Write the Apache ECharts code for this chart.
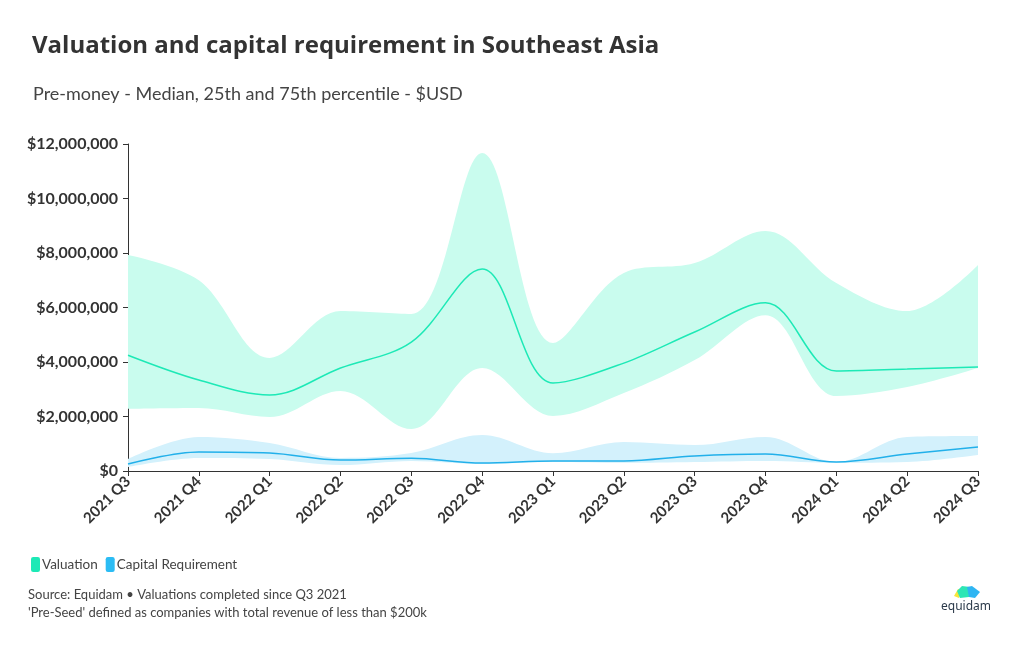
<!DOCTYPE html>
<html>
<head>
<meta charset="utf-8">
<script src="https://cdn.jsdelivr.net/npm/echarts@6/dist/echarts.min.js"></script>
<style>
html,body{margin:0;padding:0;background:#fff;}
#chart{width:1020px;height:650px;}
</style>
</head>
<body>
<div id="chart"></div>
<script>
const categories = ['2021 Q3','2021 Q4','2022 Q1','2022 Q2','2022 Q3','2022 Q4','2023 Q1','2023 Q2','2023 Q3','2023 Q4','2024 Q1','2024 Q2','2024 Q3'];
const valuationMedian = [4250000,3340000,2790000,3780000,4730000,7410000,3230000,3960000,5100000,6170000,3670000,3740000,3820000];
const valuationP25 = [2280000,2310000,1980000,2940000,1540000,3780000,2020000,2860000,4070000,5720000,2750000,3080000,3780000];
const valuationP75 = [7930000,7000000,4150000,5870000,5760000,11670000,4700000,7270000,7630000,8810000,6900000,5870000,7560000];
const capitalMedian = [260000,700000,660000,400000,470000,290000,370000,370000,550000,620000,330000,620000,880000];
const capitalP25 = [150000,480000,440000,220000,370000,260000,330000,300000,330000,370000,300000,330000,590000];
const capitalP75 = [440000,1250000,1030000,480000,660000,1320000,650000,1060000,950000,1250000,330000,1250000,1280000];
const yTicks = [0,2000000,4000000,6000000,8000000,10000000,12000000];

const FONT = 'Lato, "Open Sans", sans-serif';
const MINT = '#1de9b6', MINT_BAND = '#c9fcee';
const BLUE = '#2bbcf4', BLUE_LINE = '#22b0ea', BLUE_BAND = '#d3f1fc';

function diff(a, b) { return a.map((v, i) => v - b[i]); }
function fmt(v) { return '$' + v.toLocaleString('en-US'); }

const chart = echarts.init(document.getElementById('chart'), null, {renderer: 'canvas'});
const common = {type: 'line', smooth: 0.35, symbol: 'none', silent: true};

chart.setOption({
  animation: false,
  backgroundColor: '#ffffff',
  textStyle: {fontFamily: FONT},
  title: [
    {text: 'Valuation and capital requirement in Southeast Asia', left: 27, top: 29,
     textStyle: {fontFamily: '"Open Sans", sans-serif', fontWeight: 'bold', fontSize: 24, color: '#333333'}},
    {text: 'Pre-money - Median, 25th and 75th percentile - $USD', left: 28, top: 80,
     textStyle: {fontFamily: FONT, fontWeight: 'normal', fontSize: 18, color: '#444444'}}
  ],
  legend: {
    left: 26, top: 552, itemGap: 8, itemWidth: 9, itemHeight: 15, icon: 'roundRect',
    selectedMode: false,
    textStyle: {fontFamily: FONT, fontSize: 13.5, color: '#444444', padding: [0, 0, 0, -3]},
    data: [
      {name: 'Valuation', itemStyle: {color: MINT}},
      {name: 'Capital Requirement', itemStyle: {color: BLUE}}
    ]
  },
  grid: {left: 128, right: 42, top: 144, bottom: 179},
  xAxis: {
    type: 'category', data: categories, boundaryGap: false,
    axisLine: {lineStyle: {color: '#333333', width: 1}},
    axisTick: {show: true, length: 5, alignWithLabel: true, lineStyle: {color: '#333333'}},
    axisLabel: {rotate: 45, fontFamily: FONT, fontWeight: 'bold', fontSize: 15, color: '#333333', margin: 8, interval: 0},
    splitLine: {show: false}
  },
  yAxis: {
    type: 'value', min: 0, max: 12000000, interval: 2000000,
    axisLine: {show: true, lineStyle: {color: '#333333', width: 1}},
    axisTick: {show: true, length: 5, lineStyle: {color: '#333333'}},
    axisLabel: {fontFamily: FONT, fontWeight: 'bold', fontSize: 16, color: '#333333', margin: 10,
      formatter: v => yTicks.indexOf(v) >= 0 ? fmt(v) : ''},
    splitLine: {show: false}
  },
  series: [
    Object.assign({}, common, {name: 'valLow', data: valuationP25, stack: 'val',
      lineStyle: {width: 0, opacity: 0}, itemStyle: {color: MINT}, z: 1}),
    Object.assign({}, common, {name: 'Valuation', data: diff(valuationP75, valuationP25), stack: 'val',
      lineStyle: {width: 0, opacity: 0}, itemStyle: {color: MINT},
      areaStyle: {color: MINT_BAND, opacity: 1}, z: 1}),
    Object.assign({}, common, {name: 'capLow', data: capitalP25, stack: 'cap',
      lineStyle: {width: 0, opacity: 0}, itemStyle: {color: BLUE}, z: 2}),
    Object.assign({}, common, {name: 'Capital Requirement', data: diff(capitalP75, capitalP25), stack: 'cap',
      lineStyle: {width: 0, opacity: 0}, itemStyle: {color: BLUE},
      areaStyle: {color: BLUE_BAND, opacity: 1}, z: 2}),
    Object.assign({}, common, {name: 'valMedian', data: valuationMedian,
      lineStyle: {color: MINT, width: 1.5}, itemStyle: {color: MINT}, z: 3}),
    Object.assign({}, common, {name: 'capMedian', data: capitalMedian,
      lineStyle: {color: BLUE_LINE, width: 1.5}, itemStyle: {color: BLUE_LINE}, z: 3})
  ],
  graphic: [
    {type: 'text', left: 28, top: 588,
     style: {text: 'Source: Equidam \u2022 Valuations completed since Q3 2021', fontFamily: FONT, fontSize: 13, fill: '#444444'}},
    {type: 'text', left: 28, top: 606,
     style: {text: "'Pre-Seed' defined as companies with total revenue of less than $200k", fontFamily: FONT, fontSize: 13, fill: '#444444'}},
    {type: 'polygon', shape: {points: [[954,596],[958,589],[962,590],[959,598]]}, style: {fill: '#f7e53b'}},
    {type: 'polygon', shape: {points: [[957,591],[962,586],[970,587],[969,597],[960,598]]}, style: {fill: '#2ee6b5'}},
    {type: 'polygon', shape: {points: [[967,587],[972,586],[980,592],[975,598],[969,597]]}, style: {fill: '#2fb5f2'}},
    {type: 'text', left: 941, top: 601,
     style: {text: 'equidam', fontFamily: '"Noto Sans", sans-serif', fontSize: 12, fill: '#2b3a4a'}}
  ]
});
</script>
</body>
</html>
